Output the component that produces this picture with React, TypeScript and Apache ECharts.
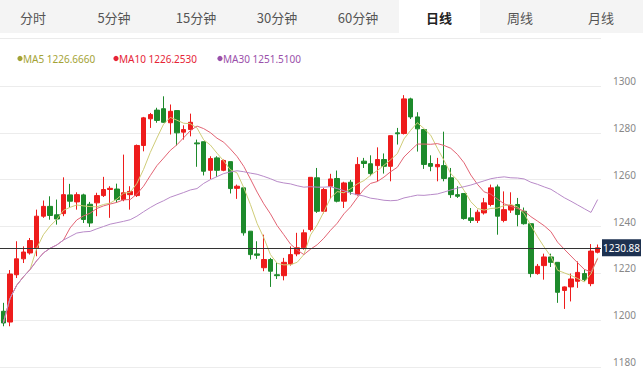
import React, { useEffect, useRef } from 'react';
import * as echarts from 'echarts';

const tabs = ['分时', '5分钟', '15分钟', '30分钟', '60分钟', '日线', '周线', '月线'];
const activeTab = '日线';
const legendNames = ['MA5', 'MA10', 'MA30'];
const legendValues = ['1226.6660', '1226.2530', '1251.5100'];
const yTickLabels = [1180, 1200, 1220, 1240, 1260, 1280, 1300];
const lastPrice = 1230.88;

const opens = [
  1203.8, 1199.2, 1219.4, 1226.2, 1228.7, 1230.9, 1244.4, 1248.6, 1245.0, 1245.5,
  1253.5, 1250.5, 1253.5, 1249.5, 1250.1, 1253.2, 1255.8, 1256.0, 1251.5, 1253.6,
  1253.2, 1274.6, 1286.0, 1289.7, 1290.3, 1284.3, 1289.5, 1280.3, 1281.4, 1275.7,
  1276.2, 1264.0, 1269.3, 1264.0, 1267.7, 1256.3, 1256.5, 1238.0, 1228.3, 1222.4,
  1225.9, 1219.4, 1219.0, 1224.0, 1228.3, 1230.9, 1238.7, 1260.8, 1246.5, 1257.2,
  1260.5, 1250.8, 1258.9, 1253.6, 1267.9, 1266.8, 1266.0, 1268.6, 1265.7, 1280.0,
  1279.7, 1294.5, 1286.8, 1281.4, 1266.9, 1265.5, 1266.0, 1260.8, 1253.6, 1254.1,
  1243.7, 1242.6, 1245.8, 1249.4, 1256.9, 1242.6, 1247.0, 1249.4, 1246.5, 1241.2,
  1219.9, 1223.3, 1227.0, 1224.7, 1212.7, 1214.2, 1216.6, 1219.9, 1215.6, 1229.0,
];
const closes = [
  1198.8, 1219.7, 1226.2, 1229.1, 1234.0, 1244.4, 1248.6, 1244.7, 1243.2, 1253.6,
  1250.8, 1253.6, 1243.0, 1241.5, 1253.2, 1255.8, 1256.3, 1251.5, 1254.4, 1255.0,
  1274.6, 1286.4, 1287.8, 1285.3, 1284.5, 1289.2, 1280.0, 1281.4, 1284.5, 1275.3,
  1263.6, 1269.0, 1264.0, 1268.2, 1256.2, 1257.2, 1237.3, 1228.0, 1227.7, 1225.9,
  1220.9, 1219.0, 1224.7, 1228.0, 1230.9, 1237.3, 1261.0, 1246.5, 1255.8, 1260.3,
  1250.8, 1258.6, 1255.0, 1266.5, 1266.9, 1262.6, 1268.6, 1265.7, 1278.8, 1279.6,
  1294.5, 1286.8, 1281.7, 1266.5, 1265.7, 1266.5, 1260.5, 1253.6, 1252.9, 1243.4,
  1242.6, 1246.1, 1250.1, 1256.5, 1244.4, 1247.2, 1249.0, 1245.1, 1241.2, 1219.9,
  1223.0, 1227.0, 1224.7, 1211.9, 1214.2, 1217.6, 1220.4, 1217.3, 1229.5, 1230.88,
];
const lows = [
  1197.4, 1197.4, 1218.0, 1224.4, 1228.0, 1227.3, 1243.7, 1242.9, 1240.8, 1244.4,
  1247.9, 1247.2, 1241.5, 1239.8, 1244.4, 1252.6, 1243.7, 1250.1, 1250.8, 1247.2,
  1252.6, 1272.1, 1282.1, 1284.3, 1284.3, 1279.3, 1274.6, 1277.1, 1278.5, 1265.5,
  1261.8, 1260.3, 1261.2, 1263.6, 1254.1, 1251.8, 1236.1, 1225.9, 1226.2, 1220.9,
  1214.2, 1217.6, 1217.0, 1223.3, 1227.3, 1230.1, 1237.9, 1245.8, 1245.6, 1251.8,
  1250.3, 1247.9, 1253.6, 1253.2, 1265.0, 1261.5, 1259.3, 1262.6, 1259.3, 1275.0,
  1279.3, 1285.9, 1272.0, 1264.6, 1263.6, 1259.3, 1259.3, 1252.2, 1252.2, 1242.9,
  1241.5, 1241.5, 1245.1, 1248.6, 1236.5, 1241.8, 1245.8, 1240.1, 1240.8, 1218.3,
  1219.4, 1217.3, 1222.7, 1207.4, 1204.8, 1208.0, 1213.8, 1216.6, 1214.5, 1228.5,
];
const highs = [
  1207.4, 1221.4, 1233.7, 1231.5, 1235.1, 1247.2, 1251.1, 1252.9, 1251.5, 1261.0,
  1258.2, 1254.6, 1254.0, 1250.5, 1254.4, 1261.2, 1257.2, 1258.3, 1270.7, 1257.2,
  1275.0, 1286.8, 1288.5, 1290.7, 1295.6, 1292.1, 1289.5, 1283.2, 1288.2, 1277.1,
  1276.2, 1270.0, 1270.0, 1268.6, 1267.7, 1257.9, 1256.5, 1238.0, 1233.7, 1236.5,
  1226.6, 1224.4, 1226.6, 1231.5, 1237.3, 1238.7, 1261.0, 1265.0, 1256.5, 1262.5,
  1263.9, 1259.1, 1259.9, 1269.6, 1269.3, 1270.4, 1273.8, 1271.2, 1278.8, 1282.1,
  1296.1, 1295.0, 1288.8, 1281.4, 1270.4, 1269.3, 1280.5, 1265.0, 1257.2, 1254.1,
  1247.9, 1247.2, 1252.2, 1257.9, 1257.9, 1255.0, 1254.6, 1252.2, 1248.1, 1241.2,
  1224.0, 1228.4, 1228.4, 1224.7, 1214.4, 1219.9, 1225.1, 1221.6, 1232.5, 1232.3,
];

const ma5 = [
  1198.8, 1209.3, 1214.9, 1218.5, 1221.6, 1230.7, 1236.5, 1240.2, 1243.0, 1246.9,
  1248.2, 1249.2, 1248.8, 1248.5, 1248.4, 1249.4, 1250.0, 1251.7, 1254.2, 1254.6,
  1258.4, 1264.4, 1271.6, 1277.8, 1283.7, 1286.6, 1285.4, 1284.1, 1283.9, 1282.1,
  1277.0, 1274.8, 1271.3, 1268.0, 1264.2, 1262.9, 1256.6, 1249.4, 1241.3, 1235.2,
  1228.0, 1224.3, 1223.6, 1223.7, 1224.7, 1228.0, 1236.4, 1240.7, 1246.3, 1252.2,
  1254.9, 1254.4, 1256.1, 1258.2, 1259.6, 1261.9, 1263.9, 1266.1, 1268.5, 1271.1,
  1277.4, 1281.1, 1284.3, 1281.8, 1279.0, 1273.4, 1268.2, 1262.6, 1259.8, 1255.4,
  1250.6, 1247.7, 1247.0, 1247.7, 1247.9, 1248.9, 1249.4, 1248.4, 1245.4, 1240.5,
  1235.6, 1231.2, 1227.2, 1221.3, 1220.2, 1219.1, 1217.8, 1216.3, 1219.8, 1226.67,
];
const ma10 = [
  1198.8, 1209.3, 1214.9, 1218.5, 1221.6, 1225.4, 1228.7, 1230.7, 1232.1, 1234.2,
  1239.4, 1242.8, 1244.5, 1245.7, 1247.7, 1248.8, 1249.6, 1250.3, 1251.4, 1251.5,
  1253.9, 1257.2, 1261.7, 1266.0, 1269.2, 1272.5, 1274.9, 1277.9, 1280.9, 1282.9,
  1281.8, 1280.1, 1277.7, 1276.0, 1273.1, 1269.9, 1265.7, 1260.3, 1254.7, 1249.7,
  1245.4, 1240.4, 1236.5, 1232.5, 1230.0, 1228.0, 1230.3, 1232.2, 1235.0, 1238.4,
  1241.4, 1245.4, 1248.4, 1252.3, 1255.9, 1258.4, 1259.2, 1261.1, 1263.4, 1265.3,
  1269.7, 1272.5, 1275.2, 1275.2, 1275.1, 1275.4, 1274.6, 1273.4, 1270.8, 1267.2,
  1262.0, 1258.0, 1254.8, 1253.8, 1251.7, 1249.7, 1248.6, 1247.7, 1246.6, 1244.2,
  1242.3, 1240.3, 1237.8, 1233.3, 1230.3, 1227.4, 1224.5, 1221.7, 1220.6, 1226.25,
];
const ma30 = [
  1198.8, 1209.3, 1214.9, 1218.5, 1221.6, 1225.4, 1228.7, 1230.7, 1232.1, 1234.2,
  1235.7, 1237.2, 1237.7, 1237.9, 1239.0, 1240.0, 1241.0, 1241.6, 1242.2, 1242.9,
  1244.4, 1246.3, 1248.1, 1249.7, 1251.0, 1252.5, 1253.5, 1254.5, 1255.6, 1256.2,
  1258.4, 1260.0, 1261.3, 1262.6, 1263.3, 1263.8, 1263.4, 1262.8, 1262.3, 1261.4,
  1260.4, 1259.2, 1258.6, 1258.2, 1257.4, 1256.8, 1257.0, 1256.8, 1256.8, 1257.0,
  1256.2, 1255.3, 1254.2, 1253.6, 1253.0, 1252.1, 1251.7, 1251.2, 1251.0, 1251.2,
  1252.2, 1252.8, 1253.4, 1253.3, 1253.6, 1253.9, 1254.7, 1255.6, 1256.4, 1257.0,
  1257.7, 1258.6, 1259.5, 1260.4, 1260.9, 1261.2, 1260.8, 1260.7, 1260.3, 1258.9,
  1258.0, 1256.9, 1255.9, 1254.1, 1252.3, 1250.8, 1249.2, 1247.6, 1246.0, 1251.51,
];

const categories = closes.map((_, i) => 'D' + (i + 1));

const UP = '#ee1c1c';
const DOWN = '#1d8a2b';
const maLineColors = ['#cfcc78', '#e26474', '#b88ac8'];
const maTextColors = ['#a4a336', '#e62436', '#9a50aa'];

export default function App() {
  const ref = useRef<HTMLDivElement>(null);
  useEffect(() => {
    document.body.style.margin = '0';
    if (!ref.current) return;
    const chart = echarts.init(ref.current, undefined, { renderer: 'svg' });
    const tabCenters = [33, 114, 196, 277, 358, 439, 520, 601];
    const graphics: any[] = [
      { type: 'rect', shape: { x: 0, y: 0, width: 643, height: 33 }, style: { fill: '#f4f4f4' }, silent: true },
      { type: 'rect', shape: { x: 399, y: 0, width: 81, height: 33 }, style: { fill: '#ffffff' }, silent: true },
      { type: 'line', shape: { x1: 0, y1: 38.5, x2: 601, y2: 38.5 }, style: { stroke: '#ebebeb', lineWidth: 1 }, silent: true },
    ];
    tabs.forEach((t, i) => {
      const active = t === activeTab;
      graphics.push({
        type: 'text',
        x: tabCenters[i],
        y: 17,
        style: {
          text: t,
          fill: active ? '#222' : '#555',
          font: `${active ? 'bold ' : ''}13px "Noto Sans CJK SC", sans-serif`,
          textAlign: 'center',
          textVerticalAlign: 'middle',
        },
        silent: true,
      });
    });
    const legX = [20, 116, 220];
    legendNames.forEach((n, i) => {
      graphics.push({ type: 'circle', shape: { cx: legX[i], cy: 58.5, r: 2.6 }, style: { fill: maTextColors[i] }, silent: true });
      graphics.push({
        type: 'text',
        x: legX[i] + 3,
        y: 58.5,
        style: {
          text: `${n} ${legendValues[i]}`,
          fill: maTextColors[i],
          font: '10px "Noto Sans", sans-serif',
          textAlign: 'left',
          textVerticalAlign: 'middle',
        },
        silent: true,
      });
    });

    const kData = closes.map((c, i) => [opens[i], c, lows[i], highs[i]]);
    const maSeries = [ma5, ma10, ma30].map((d, i) => ({
      name: legendNames[i],
      type: 'line',
      data: d,
      showSymbol: false,
      symbol: 'none',
      lineStyle: { width: 1, color: maLineColors[i] },
      itemStyle: { color: maLineColors[i] },
      silent: true,
      z: 3,
    }));

    chart.setOption({
      animation: false,
      grid: { left: 0, right: 42, top: 86, bottom: 1, containLabel: false, outerBoundsMode: 'none' },
      graphic: graphics,
      xAxis: {
        type: 'category',
        data: categories,
        boundaryGap: true,
        axisLine: { show: false },
        axisTick: { show: false },
        axisLabel: { show: false },
        splitLine: { show: false },
      },
      yAxis: {
        type: 'value',
        position: 'right',
        min: yTickLabels[0],
        max: yTickLabels[yTickLabels.length - 1],
        interval: 20,
        axisLine: { show: false },
        axisTick: { show: false },
        axisLabel: {
          color: '#888',
          fontSize: 10,
          lineHeight: 10,
          verticalAlign: 'bottom',
          fontFamily: '"Noto Sans", sans-serif',
          margin: 12,
          formatter: (v: number) => String(v),
        },
        splitLine: { lineStyle: { color: '#ececec', width: 1 } },
      },
      series: [
        {
          name: 'K',
          type: 'candlestick',
          data: kData,
          barWidth: 5,
          itemStyle: { color: UP, color0: DOWN, borderColor: UP, borderColor0: DOWN, borderWidth: 1 },
          z: 2,
          markLine: {
            silent: true,
            symbol: ['none', 'none'],
            lineStyle: { color: '#333', type: 'solid', width: 1 },
            label: {
              position: 'end',
              distance: 1,
              formatter: lastPrice.toFixed(2),
              color: '#fff',
              backgroundColor: '#1d3150',
              padding: [4, 1, 3, 1],
              fontSize: 10,
              fontFamily: '"Noto Sans", sans-serif',
            },
            data: [{ yAxis: lastPrice }],
          },
        },
        ...maSeries,
      ],
    });
    return () => chart.dispose();
  }, []);
  return <div ref={ref} style={{ width: 643, height: 368 }} />;
}
